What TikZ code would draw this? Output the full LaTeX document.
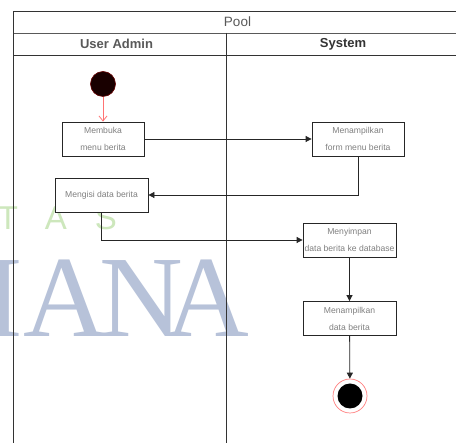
\documentclass[tikz,border=0pt]{standalone}
\usepackage{fontspec}
\setmainfont{Liberation Sans}
\newfontfamily\wmfont{Liberation Serif}
\usetikzlibrary{arrows.meta}
\definecolor{wmblue}{HTML}{B7C2D9}
\definecolor{wmgreen}{HTML}{CDE7BC}
\begin{document}
\begin{tikzpicture}[x=1pt,y=-1pt,
  act/.style={draw=black!85,line width=0.8pt,fill=white,minimum width=#1,minimum height=34pt,
    inner sep=0pt,align=center,font=\fontsize{8.6}{17}\selectfont,text=black!50},
  act/.default=92pt,
  flow/.style={draw=black!85,line width=0.8pt,-{Triangle[length=6pt,width=6pt]}},
  lane/.style={draw=black!80,line width=0.8pt},
  bigwm/.style={text=wmblue,font=\wmfont\fontsize{116}{116}\selectfont,anchor=base,inner sep=0},
  smallwm/.style={text=wmgreen,font=\fontsize{33}{33}\selectfont,anchor=base,inner sep=0}]
\useasboundingbox (0,0) rectangle (456,443);
\fill[white] (0,0) rectangle (456,443);

% background watermark letters
\node[smallwm] (wt) at (8,230) {T};
\node[smallwm] (wa) at (56,230) {A};
\node[smallwm] (ws) at (106,230) {S};
\node[bigwm] (wi) at (4,337) {I};
\node[bigwm] (wa1) at (65,337) {A};
\node[bigwm] (wn) at (141,337) {N};
\node[bigwm] (wa2) at (207,337) {A};

% pool and lanes
\draw[lane] (13.5,460) -- (13.5,11) -- (470,11);
\draw[lane,draw=black!65] (13.5,33) -- (470,33);
\draw[lane] (13.5,55) -- (470,55);
\draw[lane] (226,33) -- (226,460);
\node[font=\fontsize{13.5}{13.5}\selectfont,text=black!65] (pool) at (237.5,22) {Pool};
\node[font=\bfseries\fontsize{13}{13}\selectfont,text=black!65] (ua) at (116.5,44) {User Admin};
\node[font=\bfseries\fontsize{13}{13}\selectfont,text=black!80] (sys) at (343,44) {System};

% activities
\node[circle,fill=black!90!red,draw=red!40!black,line width=0.6pt,minimum size=25pt,inner sep=0] (start) at (103,84) {};
\node[act=82pt] (a1) at (103,139) {Membuka\\menu berita};
\node[act] (a2) at (358,139) {Menampilkan\\form menu berita};
\node[act=93pt] (a3) at (101.5,195) {Mengisi data berita};
\node[act=93pt] (a4) at (349.5,240) {Menyimpan\\data berita ke database};
\node[act=93pt] (a5) at (349.5,318.5) {Menampilkan\\data berita};
\node[circle,draw=red!50!white,fill=white,line width=0.7pt,minimum size=34pt,inner sep=0] (end) at (350,396) {};
\node[circle,fill=black,minimum size=25pt,inner sep=0] (endc) at (end) {};

% control flow
\draw[draw=red!55!white,line width=0.8pt,-{Straight Barb[length=5pt,width=8pt]}] (start) -- (a1);
\draw[flow] (a1) -- (a2);
\draw[flow] (a2.south) |- (a3.east);
\draw[flow] (a3.south) |- (a4.west);
\draw[flow] (a4) -- (a5);
\draw[flow] (a5) -- (end);
\end{tikzpicture}
\end{document}
